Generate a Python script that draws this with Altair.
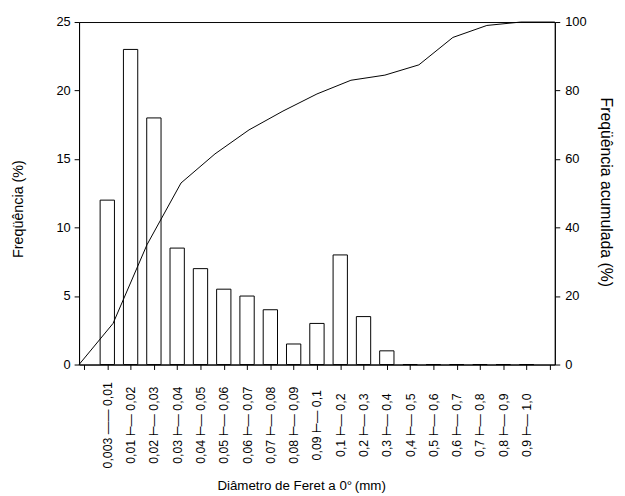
import json
import altair as alt
import pandas as pd

lows = ["0,003", "0,01", "0,02", "0,03", "0,04", "0,05", "0,06", "0,07", "0,08", "0,09",
        "0,1", "0,2", "0,3", "0,4", "0,5", "0,6", "0,7", "0,8", "0,9"]
highs = ["0,01", "0,02", "0,03", "0,04", "0,05", "0,06", "0,07", "0,08", "0,09", "0,1",
         "0,2", "0,3", "0,4", "0,5", "0,6", "0,7", "0,8", "0,9", "1,0"]
freq = [12, 23, 18, 8.5, 7, 5.5, 5, 4, 1.5, 3, 8, 3.5, 1, 0, 0, 0, 0, 0, 0]
cum = [0, 12, 35, 53, 61.5, 68.5, 74, 79, 83, 84.5, 87.5, 95.5, 99, 100, 100]

labels = [lows[0] + " \u2014\u2014 " + highs[0]] + [
    f"{lo} \u22a2\u2014 {hi}" for lo, hi in zip(lows[1:], highs[1:])
]

bars_df = pd.DataFrame({"pos": list(range(1, len(freq) + 1)), "freq": freq})
line_df = pd.DataFrame({"idx": list(range(len(cum))), "cum": cum})

FONT = "Liberation Sans"
label_expr = json.dumps(labels, ensure_ascii=False) + "[datum.value - 1] || ''"

bars = alt.Chart(bars_df).mark_bar(
    width=14.5, fill="white", stroke="black", strokeWidth=1
).encode(
    x=alt.X(
        "pos:Q",
        scale=alt.Scale(domain=[0, 20], nice=False, zero=False),
        axis=alt.Axis(
            values=list(range(21)),
            labelExpr=label_expr,
            labelAngle=270,
            labelAlign="center",
            labelBaseline="middle",
            labelPadding=56,
            labelFontSize=12.5,
            labelFont=FONT,
            labelColor="black",
            labelOverlap=False,
            tickSize=5,
            tickColor="black",
            domainColor="black",
            grid=False,
            title="Diâmetro de Feret a 0°\u2009(mm)",
            titleFont=FONT,
            titleFontSize=13.5,
            titleFontWeight="normal",
            titleColor="black",
            titleAlign="center",
            titleBaseline="middle",
            titleX=225,
            titleY=123,
        ),
    ),
    y=alt.Y(
        "freq:Q",
        scale=alt.Scale(domain=[0, 25], nice=False),
        axis=alt.Axis(
            values=[0, 5, 10, 15, 20, 25],
            labelFontSize=13,
            labelFont=FONT,
            labelColor="black",
            labelPadding=4,
            tickSize=5,
            tickColor="black",
            domainColor="black",
            grid=False,
            title="Freqüência (%)",
            titleFont=FONT,
            titleFontSize=14.5,
            titleFontWeight="normal",
            titleColor="black",
            titleAngle=270,
            titleBaseline="middle",
            titleX=-61,
            titleY=189,
        ),
    ),
)

line = alt.Chart(line_df).mark_line(color="black", strokeWidth=1).encode(
    x=alt.X("idx:Q", scale=alt.Scale(domain=[0, 14], nice=False, zero=False), axis=None),
    y=alt.Y(
        "cum:Q",
        scale=alt.Scale(domain=[0, 100], nice=False),
        axis=alt.Axis(
            orient="right",
            values=[0, 20, 40, 60, 80, 100],
            labelFontSize=13,
            labelFont=FONT,
            labelColor="black",
            labelPadding=5,
            tickSize=5,
            tickColor="black",
            domainColor="black",
            grid=False,
            title="Freqüência acumulada (%)",
            titleFont=FONT,
            titleFontSize=16,
            titleFontWeight="normal",
            titleColor="black",
            titleAngle=90,
            titleBaseline="middle",
            titleX=51,
            titleY=172,
        ),
    ),
)

chart = alt.layer(bars, line).resolve_scale(x="independent", y="independent").properties(
    width=482,
    height=347,
    autosize=alt.AutoSizeParams(type="none"),
    padding={"left": 72, "top": 11, "right": 63, "bottom": 132},
    background="white",
).configure_view(stroke="black", strokeWidth=1)

chart.save("out.html", embed_options={"renderer": "svg", "actions": False})
